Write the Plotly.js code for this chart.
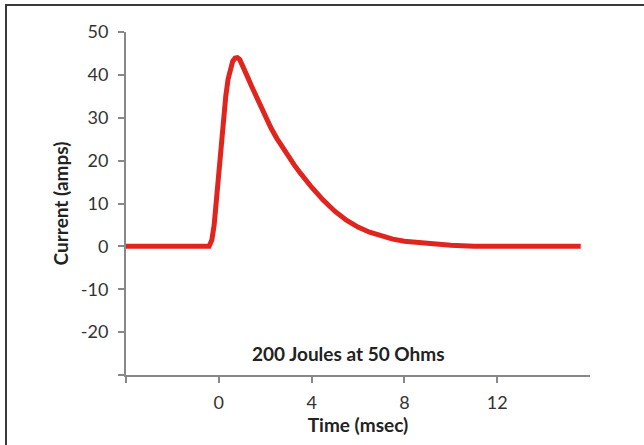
<!DOCTYPE html>
<html>
<head>
<meta charset="utf-8">
<script src="https://cdn.plot.ly/plotly-3.0.1.min.js"></script>
<style>
html,body{margin:0;padding:0;background:#fff;}
#wrap{position:relative;width:644px;height:445px;overflow:hidden;}
#frame{position:absolute;left:5px;top:4px;right:0;bottom:0;border-top:2px solid #3a3a3a;border-left:2px solid #3a3a3a;pointer-events:none;z-index:5;}
#chart{position:absolute;left:0;top:0;width:644px;height:445px;}
</style>
</head>
<body>
<div id="wrap"><div id="chart"></div><div id="frame"></div></div>
<script>
// Time (msec)
const timeMs = [-4, -0.42, -0.3, -0.2, -0.1, 0, 0.1, 0.2, 0.3, 0.4, 0.5, 0.6, 0.7, 0.8, 0.9, 1.0, 1.2, 1.4, 1.6, 1.8, 2.0, 2.25, 2.5, 2.75, 3.0, 3.25, 3.5, 3.75, 4.0, 4.5, 5.0, 5.5, 6.0, 6.5, 7.0, 7.5, 8.0, 9.0, 10.0, 11.0, 12.0, 13.0, 14.0, 15.6];
// Current (amps)
const currentAmps = [0, 0, 1.5, 5, 11, 17.5, 24, 30, 35, 39, 41.8, 43.2, 43.9, 44, 43.6, 42.6, 40, 37.5, 35, 32.5, 30.2, 27.6, 25.2, 23, 21, 19, 17.2, 15.4, 13.8, 10.8, 8.2, 6.1, 4.5, 3.3, 2.4, 1.7, 1.2, 0.6, 0.25, 0.05, -0.05, -0.05, 0, 0];
const yTickVals = [-30, -20, -10, 0, 10, 20, 30, 40, 50];
const yTickText = ['', '-20', '-10', '0', '10', '20', '30', '40', '50'];
const xTickVals = [-4, 0, 4, 8, 12];
const xTickText = ['', '0', '4', '8', '12'];
const noteText = '200 Joules at 50 Ohms';
const noteX = 5.55, noteY = -25;

const fontFam = 'Lato, "Open Sans", sans-serif';
Plotly.newPlot('chart', [{
  x: timeMs, y: currentAmps, type: 'scatter', mode: 'lines',
  line: {color: '#e0251f', width: 5, shape: 'linear'},
  hoverinfo: 'skip'
}], {
  width: 644, height: 445,
  margin: {l: 126, r: 54, t: 32, b: 70},
  paper_bgcolor: '#fff', plot_bgcolor: '#fff',
  showlegend: false,
  font: {family: fontFam, color: '#222', size: 18},
  xaxis: {
    range: [-4, 16], showgrid: false, zeroline: false,
    showline: true, linecolor: '#888', linewidth: 2,
    ticks: 'outside', ticklen: 6, tickwidth: 2, tickcolor: '#888',
    tickvals: xTickVals, ticktext: xTickText,
    ticklabelstandoff: 4,
    tickfont: {family: fontFam, size: 18, color: '#333'},
    title: {text: '<b>Time (msec)</b>', font: {family: fontFam, size: 19, color: '#222'}, standoff: 5}
  },
  yaxis: {
    range: [-30, 50], showgrid: false, zeroline: false,
    showline: true, linecolor: '#888', linewidth: 2,
    ticks: 'outside', ticklen: 6, tickwidth: 2, tickcolor: '#888',
    tickvals: yTickVals, ticktext: yTickText,
    ticklabelstandoff: 6,
    tickfont: {family: fontFam, size: 18, color: '#333'},
    title: {text: '<b>Current (amps)</b>', font: {family: fontFam, size: 19, color: '#222'}, standoff: 7}
  },
  annotations: [{
    x: noteX, y: noteY, xref: 'x', yref: 'y', text: '<b>' + noteText + '</b>',
    showarrow: false, font: {family: fontFam, size: 19, color: '#222'}
  }]
}, {staticPlot: true});
</script>
</body>
</html>
